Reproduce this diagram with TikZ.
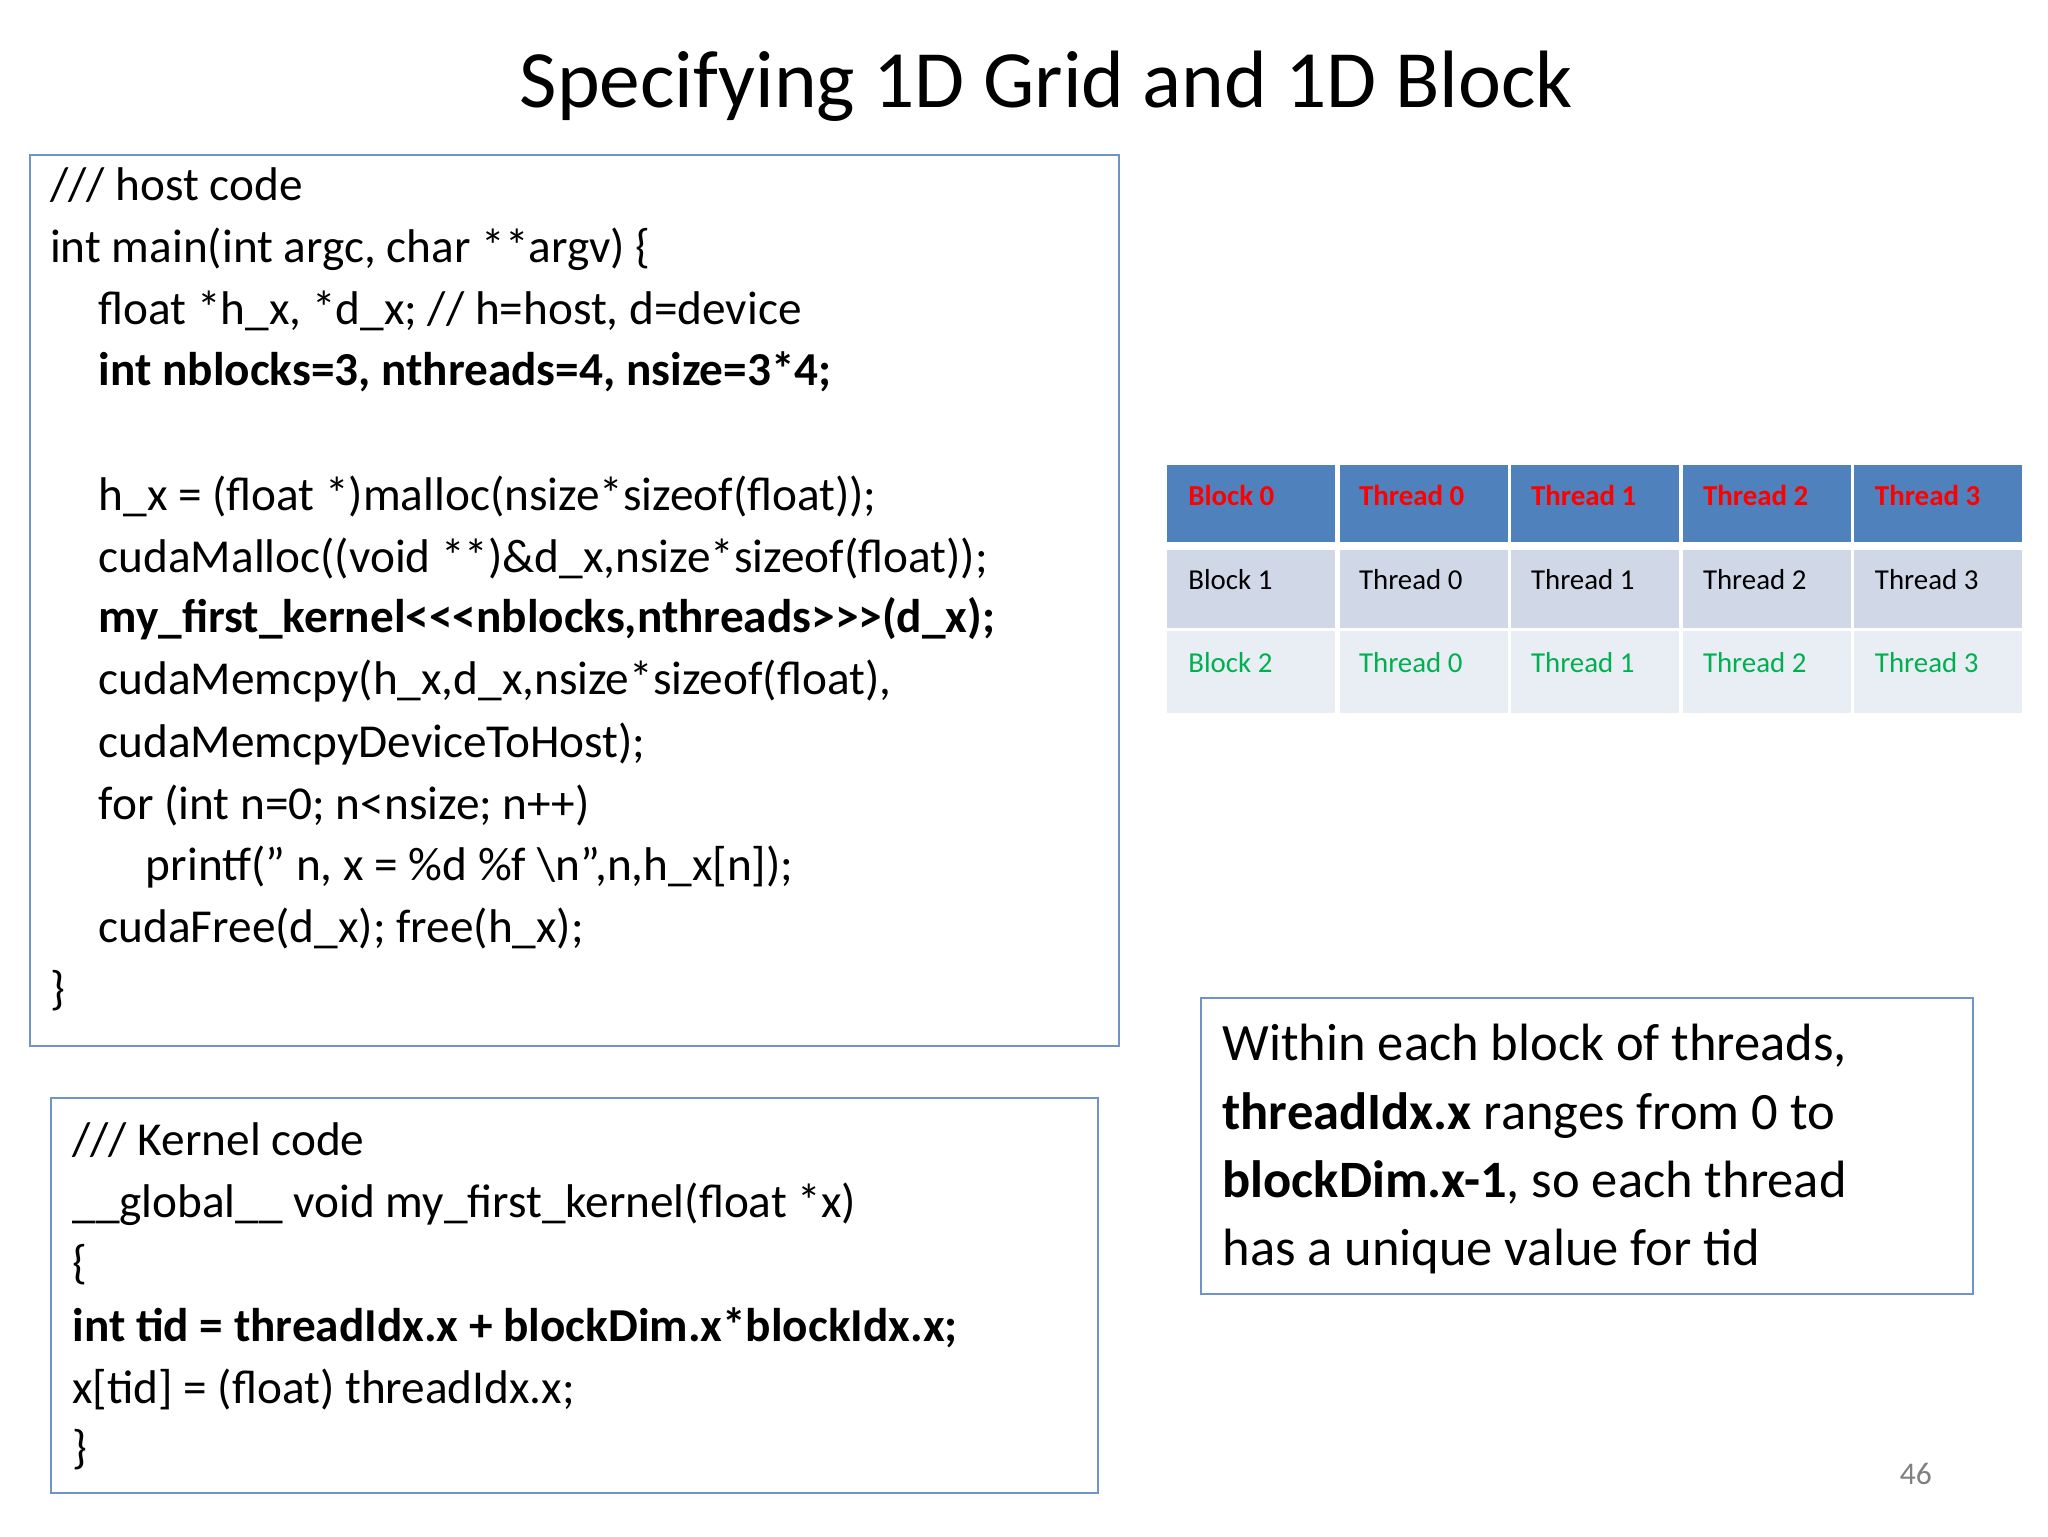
\documentclass[tikz,border=0pt]{standalone}
\usepackage{fontspec}
\setmainfont{Carlito}
\begin{document}
\begin{tikzpicture}[x=1pt,y=-1pt,
  code/.style={anchor=base west,inner sep=0pt,font=\fontsize{36}{44}\selectfont},
  wbox/.style={draw=boxblue,line width=1.5pt},
  cell/.style={anchor=north west,inner sep=0pt,minimum height=0pt,text depth=0pt},
  ctext/.style={anchor=base west,inner sep=0pt,font=\fontsize{22}{26}\selectfont}]
\definecolor{boxblue}{HTML}{7094C8}
\definecolor{hdr}{HTML}{4F81BD}
\definecolor{rowa}{HTML}{D0D8E8}
\definecolor{rowb}{HTML}{E9EDF4}
\definecolor{tred}{HTML}{FF0000}
\definecolor{tgreen}{HTML}{00B050}
\useasboundingbox (0,0) rectangle (1560,1170);
\fill[white] (0,0) rectangle (1560,1170);
\node[font=\fontsize{62}{70}\selectfont,inner sep=0pt,anchor=base] (title) at (797,82) {Specifying 1D Grid and 1D Block};
% host box
\draw[wbox] (23,118) rectangle (852,797);
\node[code] (h1) at (38,153) {/// host code};
\node[code] (h2) at (38,200) {int main(int argc, char **argv) \{};
\node[code] (h3) at (75,247) {float *h\_x, *d\_x; // h=host, d=device};
\node[code,font=\fontsize{36}{44}\selectfont\bfseries] (h4) at (75,294) {int nblocks=3, nthreads=4, nsize=3*4;};
\node[code] (h5) at (75,389) {h\_x = (float *)malloc(nsize*sizeof(float));};
\node[code] (h6) at (75,436) {cudaMalloc((void **)\&d\_x,nsize*sizeof(float));};
\node[code,font=\fontsize{36}{44}\selectfont\bfseries] (h7) at (75,482) {my\_first\_kernel<{}<{}<nblocks,nthreads>{}>{}>(d\_x);};
\node[code] (h8) at (75,529) {cudaMemcpy(h\_x,d\_x,nsize*sizeof(float),};
\node[code] (h9) at (75,577) {cudaMemcpyDeviceToHost);};
\node[code] (h10) at (75,624) {for (int n=0; n<nsize; n++)};
\node[code] (h11) at (111,671) {printf(" n, x = \%d \%f \textbackslash n",n,h\_x[n]);};
\node[code] (h12) at (75,718) {cudaFree(d\_x); free(h\_x);};
\node[code] (h13) at (38,765) {\}};
% table
\foreach \x [count=\i] in {889,1021,1151,1282,1412}{
  \fill[hdr] (\x,354) rectangle ++(128,59);
  \fill[rowa] (\x,419) rectangle ++(128,59);
  \fill[rowb] (\x,481) rectangle ++(128,62);
}
\node[ctext,text=tred,font=\fontsize{22}{26}\selectfont\bfseries] (b0) at (905,385) {Block 0};
\node[ctext,text=tred,font=\fontsize{22}{26}\selectfont\bfseries] (t00) at (1035,385) {Thread 0};
\node[ctext,text=tred,font=\fontsize{22}{26}\selectfont\bfseries] (t01) at (1166,385) {Thread 1};
\node[ctext,text=tred,font=\fontsize{22}{26}\selectfont\bfseries] (t02) at (1297,385) {Thread 2};
\node[ctext,text=tred,font=\fontsize{22}{26}\selectfont\bfseries] (t03) at (1428,385) {Thread 3};
\node[ctext] (b1) at (905,449) {Block 1};
\node[ctext] (t10) at (1035,449) {Thread 0};
\node[ctext] (t11) at (1166,449) {Thread 1};
\node[ctext] (t12) at (1297,449) {Thread 2};
\node[ctext] (t13) at (1428,449) {Thread 3};
\node[ctext,text=tgreen] (b2) at (905,512) {Block 2};
\node[ctext,text=tgreen] (t20) at (1035,512) {Thread 0};
\node[ctext,text=tgreen] (t21) at (1166,512) {Thread 1};
\node[ctext,text=tgreen] (t22) at (1297,512) {Thread 2};
\node[ctext,text=tgreen] (t23) at (1428,512) {Thread 3};
% kernel box
\draw[wbox] (39,836) rectangle (836,1137);
\node[code] (k1) at (55,880) {/// Kernel code};
\node[code] (k2) at (55,927) {\_\_global\_\_ void my\_first\_kernel(float *x)};
\node[code] (k3) at (55,974) {\{};
\node[code,font=\fontsize{36}{44}\selectfont\bfseries] (k4) at (55,1022) {int tid = threadIdx.x + blockDim.x*blockIdx.x;};
\node[code] (k5) at (55,1069) {x[tid] = (float) threadIdx.x;};
\node[code] (k6) at (55,1115) {\}};
% right box
\draw[wbox] (915,760) rectangle (1503,986);
\node[code,font=\fontsize{40}{48}\selectfont] (r1) at (931,808) {Within each block of threads,};
\node[code,font=\fontsize{40}{48}\selectfont] (r2) at (931,860) {\textbf{threadIdx.x} ranges from 0 to};
\node[code,font=\fontsize{40}{48}\selectfont] (r3) at (931,912) {\textbf{blockDim.x-1}, so each thread};
\node[code,font=\fontsize{40}{48}\selectfont] (r4) at (931,964) {has a unique value for tid};
\node[code,font=\fontsize{24}{28}\selectfont,text=gray] (pg) at (1447,1131) {46};
\end{tikzpicture}
\end{document}
